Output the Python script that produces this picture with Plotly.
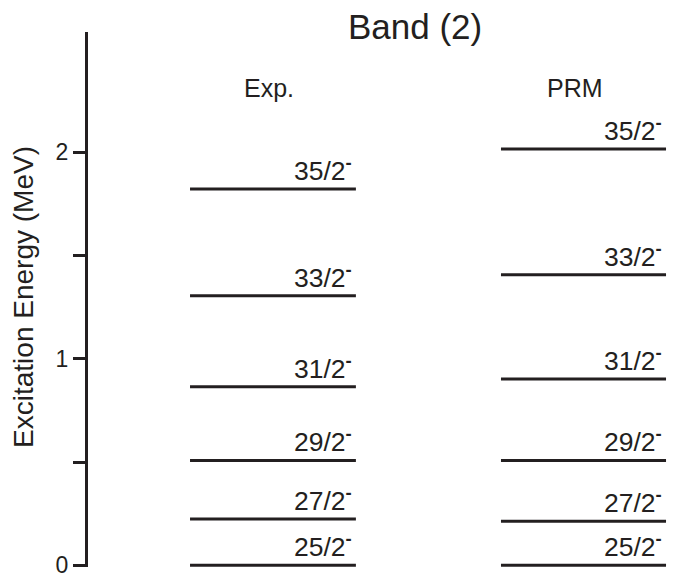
import plotly.graph_objects as go

# Level energies (MeV) for the negative-parity band
spins = ["25/2", "27/2", "29/2", "31/2", "33/2", "35/2"]
exp_energy = [0.0, 0.225, 0.508, 0.865, 1.306, 1.823]
prm_energy = [0.0, 0.213, 0.508, 0.902, 1.407, 2.016]

y_ticks = [0, 0.5, 1, 1.5, 2]
y_tick_text = ["0", "", "1", "", "2"]

INK = "#231f20"
FONT = "Liberation Sans, Arial, Helvetica, sans-serif"

# horizontal extent of each column (x axis fraction) and header position
columns = [
    ("Exp.", exp_energy, 0.1706, 0.448, 0.3035),
    ("PRM", prm_energy, 0.6906, 0.9666, 0.815),
]

fig = go.Figure()
annotations = []

for name, energies, x0, x1, xlab in columns:
    xs, ys = [], []
    for e in energies:
        xs += [x0, x1, None]
        ys += [e, e, None]
    fig.add_trace(go.Scatter(
        x=xs, y=ys, mode="lines",
        line=dict(color=INK, width=3),
        cliponaxis=False,
        hoverinfo="skip", showlegend=False,
    ))
    for spin, e in zip(spins, energies):
        annotations.append(dict(
            x=x1, y=e, xref="x", yref="y",
            text=f"{spin}<sup><b>-</b></sup>",
            showarrow=False, xanchor="right", yanchor="bottom",
            xshift=-2, yshift=1,
            font=dict(family=FONT, size=26.5, color=INK),
        ))
    annotations.append(dict(
        x=xlab, y=2.313, xref="x", yref="y",
        text=name, showarrow=False,
        xanchor="center", yanchor="middle",
        font=dict(family=FONT, size=25, color=INK),
    ))

annotations.append(dict(
    x=0.547, y=1.01, xref="paper", yref="paper",
    text="Band (2)", showarrow=False,
    xanchor="center", yanchor="middle",
    font=dict(family=FONT, size=35, color=INK),
))
annotations.append(dict(
    x=-0.107, y=1.30, xref="paper", yref="y",
    text="Excitation Energy (MeV)", showarrow=False,
    textangle=-90, xanchor="center", yanchor="middle",
    font=dict(family=FONT, size=28, color=INK),
))

fig.update_layout(
    width=686, height=576,
    margin=dict(l=88, r=0, t=32, b=9),
    paper_bgcolor="white", plot_bgcolor="white",
    annotations=annotations,
    xaxis=dict(range=[0, 1], visible=False, fixedrange=True, automargin=False),
    yaxis=dict(
        range=[-0.008, 2.583],
        tickvals=y_ticks, ticktext=y_tick_text,
        ticks="outside", ticklen=12, tickwidth=2.5, tickcolor=INK,
        showline=True, linecolor=INK, linewidth=3,
        showgrid=False, zeroline=False,
        automargin=False,
        ticklabeloverflow="allow",
        tickfont=dict(family=FONT, size=23, color=INK),
        fixedrange=True,
    ),
)

fig.write_html("out.html")
